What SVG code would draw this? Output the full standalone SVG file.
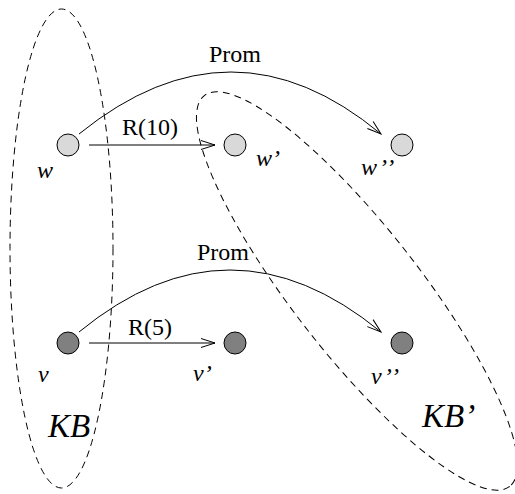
<svg xmlns="http://www.w3.org/2000/svg" width="515" height="494" viewBox="0 0 515 494">
<defs>
<marker id="open" markerUnits="userSpaceOnUse" markerWidth="20" markerHeight="12" viewBox="-16 -6 18 12" refX="0" refY="0" orient="auto">
<path d="M -14 -4.5 L 0 0 L -14 4.5" fill="none" stroke="#000" stroke-width="1"/>
</marker>
</defs>
<style>
.region{fill:none;stroke:#000;stroke-width:1;stroke-dasharray:7 5}
.light{fill:#d9d9d9;stroke:#000;stroke-width:1}
.dark{fill:#808080;stroke:#000;stroke-width:1}
.edge{fill:none;stroke:#000;stroke-width:1;marker-end:url(#open)}
.lbl{font-family:"Liberation Serif","Times New Roman",serif;font-size:24px;fill:#000}
.it{font-family:"Liberation Serif","Times New Roman",serif;font-style:italic;font-size:24px;fill:#000}
.kb{font-family:"Liberation Serif","Times New Roman",serif;font-style:italic;font-size:33px;fill:#000}
</style>
<g id="KB">
<ellipse class="region" cx="61.5" cy="248.5" rx="51.5" ry="239.5"/>
<text class="kb" x="48" y="437">KB</text>
</g>
<g id="KBprime">
<ellipse class="region" cx="357" cy="291" rx="248" ry="63" transform="rotate(52 357 291)"/>
<text class="kb" x="422" y="427">KB’</text>
</g>
<g id="connectors">
<path class="edge" d="M 89 145 L 215 145"/>
<path class="edge" d="M 89 343 L 215 343"/>
<path class="edge" d="M 79 134 Q 232 10 381 134"/>
<path class="edge" d="M 79 332 Q 230 208 381 332"/>
<text class="lbl" x="122" y="135">R(10)</text>
<text class="lbl" x="128" y="335">R(5)</text>
<text class="lbl" x="209" y="62">Prom</text>
<text class="lbl" x="197" y="260">Prom</text>
</g>
<g id="w">
<circle class="light" cx="68" cy="145" r="11"/>
<text class="it" x="37" y="178">w</text>
</g>
<g id="w1">
<circle class="light" cx="235" cy="145" r="11"/>
<text class="it" x="256" y="166">w’</text>
</g>
<g id="w2">
<circle class="light" cx="402" cy="145" r="11"/>
<text class="it" x="361" y="175" letter-spacing="2">w’’</text>
</g>
<g id="v">
<circle class="dark" cx="68" cy="343" r="11"/>
<text class="it" x="38" y="382">v</text>
</g>
<g id="v1">
<circle class="dark" cx="235" cy="343" r="11"/>
<text class="it" x="193" y="381">v’</text>
</g>
<g id="v2">
<circle class="dark" cx="402" cy="343" r="11"/>
<text class="it" x="371" y="384" letter-spacing="2">v’’</text>
</g>
</svg>
